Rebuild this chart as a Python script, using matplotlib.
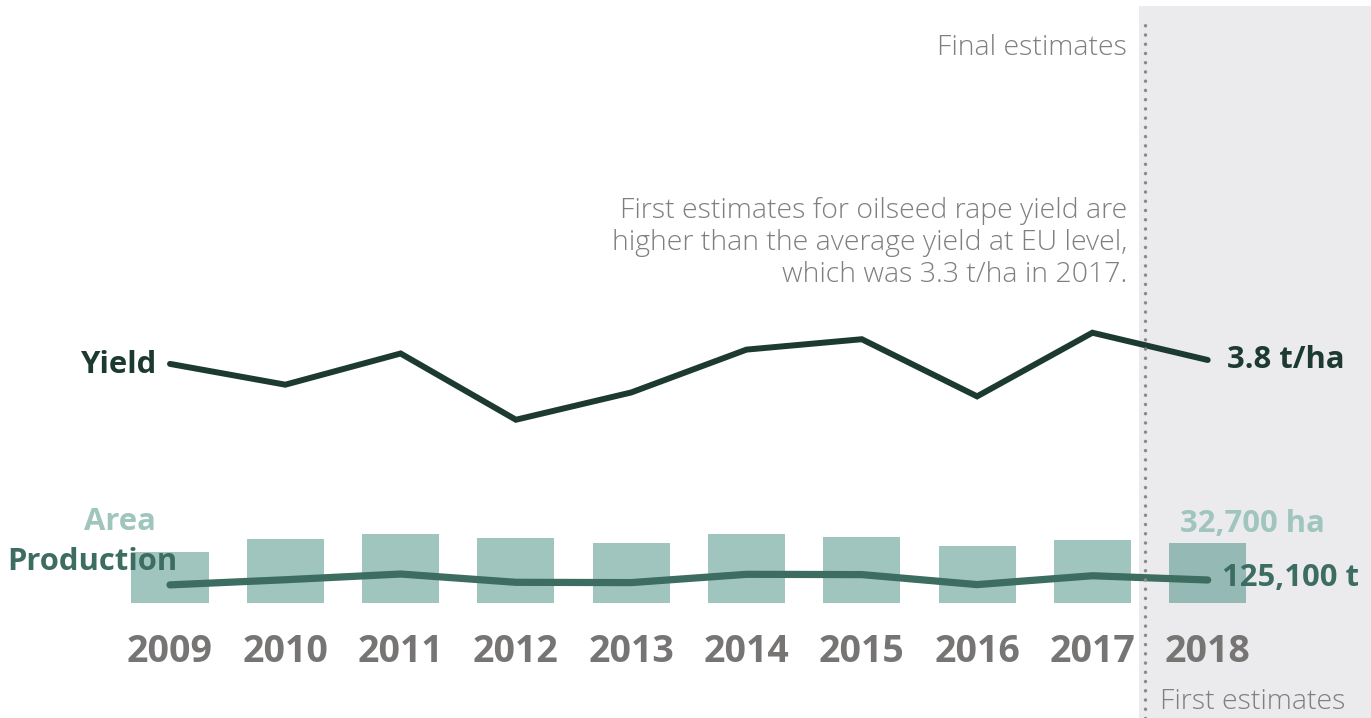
import numpy as np
import matplotlib.pyplot as plt

# data
years = [2009, 2010, 2011, 2012, 2013, 2014, 2015, 2016, 2017, 2018]
area_ha = [28000, 35000, 37500, 35500, 32800, 37500, 36200, 31200, 34600, 32700]
yield_t_ha = [3.77, 3.61, 3.85, 3.34, 3.55, 3.88, 3.96, 3.52, 4.01, 3.80]
production_kt = [108, 126, 146, 117, 116, 145, 144, 109, 140, 125.1]

W, H = 1371, 718
FONT = 'Open Sans'
c_yield = '#1d3a31'
c_prod = '#3d6c61'
c_area = '#9fc5bd'
c_grey = '#7f7f7f'
c_year = '#777474'


def ylim_from(value, px, per_px):
    # value sits at pixel row px, per_px units per pixel
    return value - (H - px) * per_px, value + px * per_px


def xlim_from(year0, px0, px_per_year):
    return year0 - px0 / px_per_year, year0 + (W - px0) / px_per_year


fig = plt.figure(figsize=(W / 100, H / 100), dpi=100)
ax = fig.add_axes([0, 0, 1, 1])
ax_prod = ax.twinx()
ax_yield = ax.twinx()

px_year = 115.3
xlim = xlim_from(2009, 170, px_year)
for a in (ax, ax_prod, ax_yield):
    a.set_xlim(*xlim)
    a.axis('off')

ax.set_ylim(*ylim_from(0, 603, 545))
ax_prod.set_ylim(*ylim_from(125.1, 580, 3.5))
ax_yield.set_ylim(*ylim_from(3.8, 360, 0.0077))

# shaded "first estimates" area
ax.axvspan(2017.40, xlim[1], ymin=0, ymax=1 - 6 / H, color='#ebebee', lw=0, zorder=0)

ax.bar(years, area_ha, width=0.668, color='#2c8071', alpha=0.45, lw=0, zorder=1)
ax_prod.plot(years, production_kt, color=c_prod, lw=5.2, solid_capstyle='round',
             solid_joinstyle='round', zorder=2)
ax_yield.plot(years, yield_t_ha, color=c_yield, lw=4.3, solid_capstyle='round',
              solid_joinstyle='miter', zorder=2)

# dotted separator on top
ax_yield.plot([2017.46, 2017.46], [ax_yield.get_ylim()[0], ax_yield.get_ylim()[1] - 19 * 0.0077],
              color='#8a8a8a', lw=2.5, ls=(0, (0.01, 2.65)), dash_capstyle='round', zorder=5)

# year labels
for y in years:
    ax.text(y, 1 - 652 / H, str(y), transform=ax.get_xaxis_transform(), ha='center', va='center',
            fontsize=27, fontweight='bold', color=c_year, family=FONT)


def ftext(px, py, s, **kw):
    fig.text(px / W, 1 - py / H, s, family=FONT, **kw)


LBL = 22.3
ftext(157, 365, 'Yield', ha='right', va='center', fontsize=LBL, fontweight='bold', color=c_yield)
ftext(1227, 360, f'{yield_t_ha[-1]:.1f} t/ha', ha='left', va='center', fontsize=LBL,
      fontweight='bold', color=c_yield)
ftext(156, 522, 'Area', ha='right', va='center', fontsize=LBL, fontweight='bold', color=c_area)
ftext(178, 562, 'Production', ha='right', va='center', fontsize=LBL, fontweight='bold', color=c_prod)
ftext(1180, 524, f'{area_ha[-1]:,} ha', ha='left', va='center', fontsize=LBL,
      fontweight='bold', color=c_area)
ftext(1222, 578, f'{production_kt[-1] * 1000:,.0f} t', ha='left', va='center', fontsize=LBL,
      fontweight='bold', color=c_prod)

NOTE = 20.5
ftext(1127, 48, 'Final estimates', ha='right', va='center', fontsize=NOTE, color=c_grey,
      fontweight='light')
ftext(1127, 243, 'First estimates for oilseed rape yield are\n'
      'higher than the average yield at EU level,\n'
      'which was 3.3 t/ha in 2017.', ha='right', va='center', fontsize=NOTE, color=c_grey,
      fontweight='light', linespacing=1.2, multialignment='right')
ftext(1160, 702, 'First estimates', ha='left', va='center', fontsize=NOTE, color=c_grey,
      fontweight='light')

fig.savefig('out.png', dpi=100)
